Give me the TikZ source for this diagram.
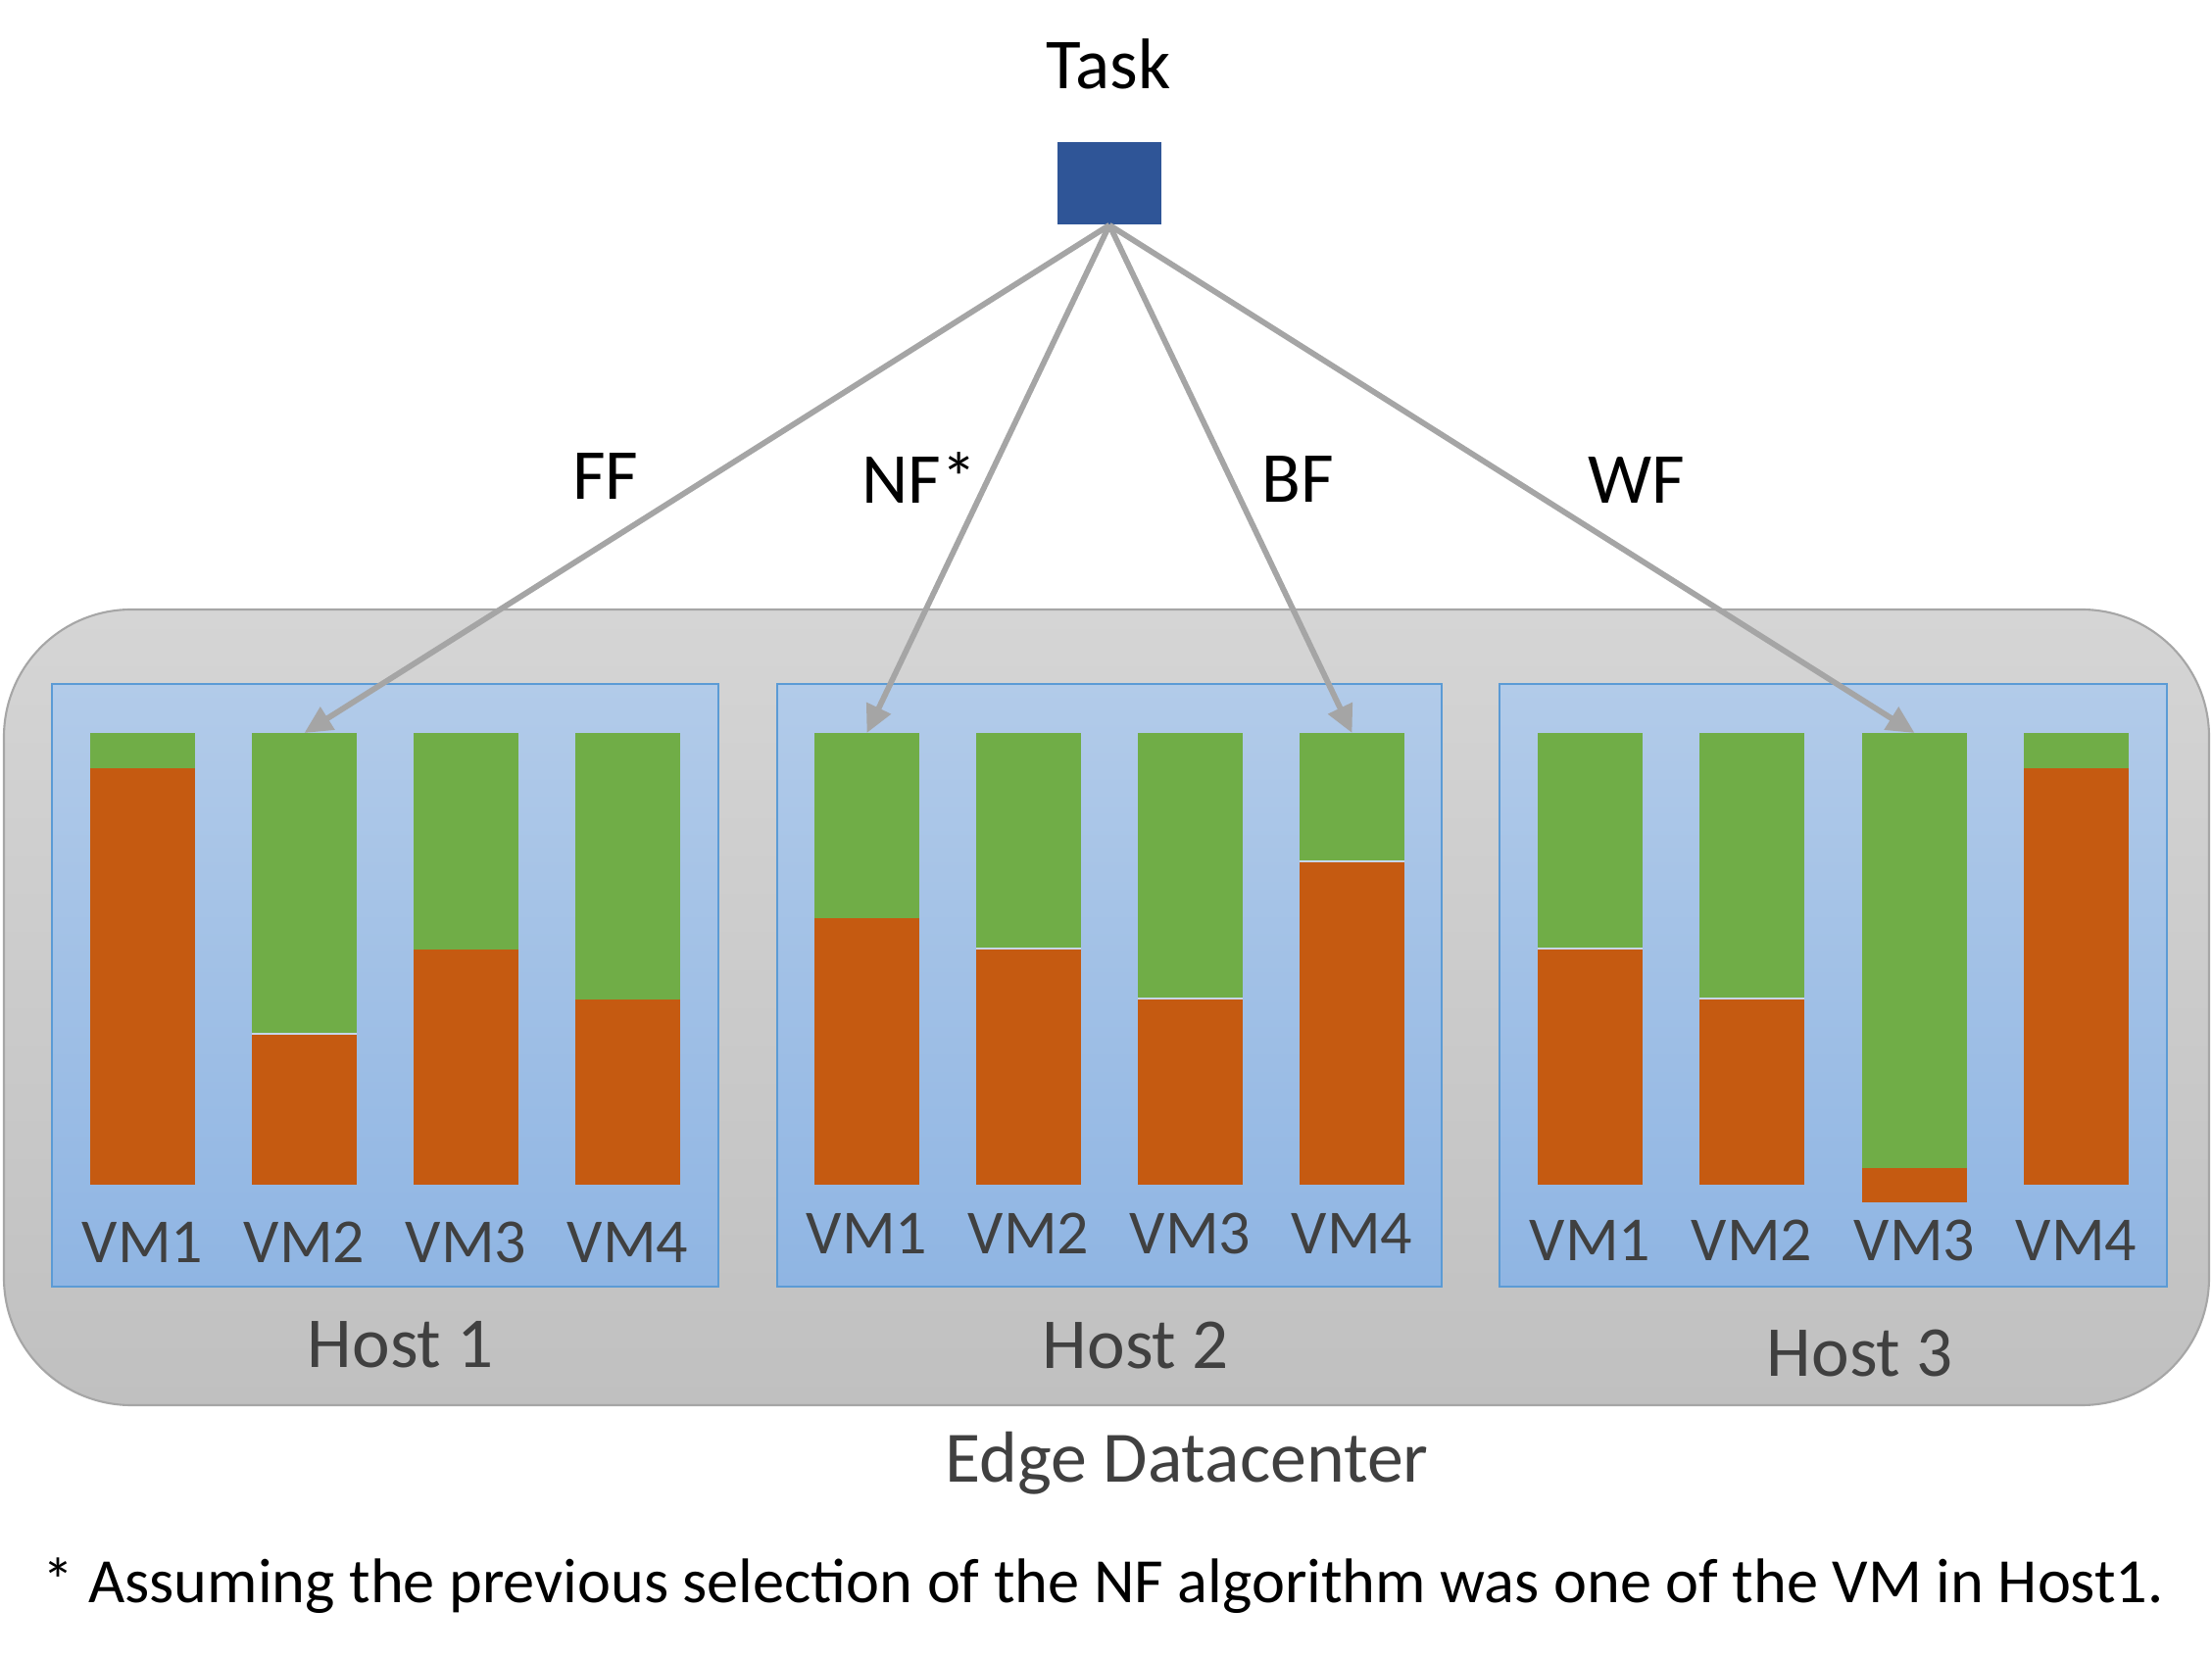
\documentclass[tikz,border=0pt]{standalone}
\usepackage{fontspec}
\setmainfont{Carlito}
\usetikzlibrary{arrows.meta}
\definecolor{vmgreen}{HTML}{70AD47}
\definecolor{vmorange}{HTML}{C55A11}
\definecolor{taskblue}{HTML}{2F5597}
\definecolor{arrgray}{HTML}{A5A5A5}
\definecolor{txtgray}{HTML}{404040}
\definecolor{dcborder}{HTML}{A6A6A6}
\definecolor{dctop}{HTML}{D5D5D5}
\definecolor{dcbot}{HTML}{C0C0C0}
\definecolor{hostborder}{HTML}{5B9BD5}
\definecolor{hosttop}{HTML}{B2CBE9}
\definecolor{hostbot}{HTML}{8FB5E3}
\definecolor{sepcol}{HTML}{C8D6EA}
\tikzset{
  dcbox/.style={draw=dcborder, line width=0.6pt, rounded corners=1.3cm, top color=dctop, bottom color=dcbot},
  hostbox/.style={draw=hostborder, line width=0.6pt, top color=hosttop, bottom color=hostbot},
  vmbarnode/.style={rectangle, inner sep=0pt, outer sep=0pt, fill=vmgreen, minimum width=1.07cm, anchor=north west},
  sepline/.style={draw=sepcol, line width=0.6pt},
  nosep/.style={draw=none},
  vmlabel/.style={anchor=base, inner sep=0pt, text=txtgray, font=\fontsize{18.2pt}{22pt}\selectfont},
  hostlabel/.style={anchor=base, inner sep=0pt, text=txtgray, font=\fontsize{20.8pt}{25pt}\selectfont},
  algolabel/.style={anchor=base, inner sep=0pt, text=black, font=\fontsize{20.8pt}{25pt}\selectfont},
  taskbox/.style={rectangle, inner sep=0pt, fill=taskblue, minimum width=1.06cm, minimum height=0.84cm},
  arr/.style={draw=arrgray, line width=1.65pt, -{Triangle[length=8pt,width=7.5pt]}},
}
% #1 name, #2 left x, #3 boundary y, #4 bottom y, #5 bar height (cm), #6 separator style
\newcommand{\vmbar}[6]{%
  \node[vmbarnode, minimum height=#5cm] (#1) at (#2,748) {};
  \fill[vmorange] (#2,#3) rectangle (#2+107,#4);
  \path[#6] (#2,#3) -- (#2+107,#3);
}
\begin{document}
\begin{tikzpicture}[x=0.01cm,y=-0.01cm]
\useasboundingbox (0,0) rectangle (2257,1692);
% datacenter
\path[dcbox] (4,622) rectangle (2254,1434);
% hosts
\path[hostbox] (53,698) rectangle (733,1313);
\path[hostbox] (793,698) rectangle (1471,1313);
\path[hostbox] (1530,698) rectangle (2211,1313);
% host 1 bars
\vmbar{hav}{92}{784}{1209}{4.61}{nosep}
\vmbar{hbv}{257}{1055}{1209}{4.61}{sepline}
\vmbar{hcv}{422}{969}{1209}{4.61}{nosep}
\vmbar{hdv}{587}{1020}{1209}{4.61}{nosep}
% host 2 bars
\vmbar{iav}{831}{937}{1209}{4.61}{nosep}
\vmbar{ibv}{996}{968}{1209}{4.61}{sepline}
\vmbar{icv}{1161}{1019}{1209}{4.61}{sepline}
\vmbar{idv}{1326}{879}{1209}{4.61}{sepline}
% host 3 bars
\vmbar{jav}{1569}{968}{1209}{4.61}{sepline}
\vmbar{jbv}{1734}{1019}{1209}{4.61}{sepline}
\vmbar{jcv}{1900}{1192}{1227}{4.79}{nosep}
\vmbar{jdv}{2065}{784}{1209}{4.61}{nosep}
% VM labels
\node[vmlabel] (la1) at (145.5,1288) {VM1};
\node[vmlabel] (la2) at (310.5,1288) {VM2};
\node[vmlabel] (la3) at (475.5,1288) {VM3};
\node[vmlabel] (la4) at (640.5,1288) {VM4};
\node[vmlabel] (lb1) at (884.5,1280) {VM1};
\node[vmlabel] (lb2) at (1049.5,1280) {VM2};
\node[vmlabel] (lb3) at (1214.5,1280) {VM3};
\node[vmlabel] (lb4) at (1379.5,1280) {VM4};
\node[vmlabel] (lc1) at (1622.5,1287) {VM1};
\node[vmlabel] (lc2) at (1787.5,1287) {VM2};
\node[vmlabel] (lc3) at (1953.5,1287) {VM3};
\node[vmlabel] (lc4) at (2118.5,1287) {VM4};
% host labels
\node[hostlabel] (host1) at (409,1395) {Host 1};
\node[hostlabel] (host2) at (1159,1396) {Host 2};
\node[hostlabel] (host3) at (1898,1404) {Host 3};
\node[hostlabel, font=\fontsize{21pt}{25pt}\selectfont] (edc) at (1211,1512) {Edge Datacenter};
% task
\node[algolabel] (tasklbl) at (1131,91) {Task};
\node[taskbox] (task) at (1132,187) {};
% arrows
\draw[arr] (task.south) -- (hbv.north);
\draw[arr] (task.south) -- (iav.north);
\draw[arr] (task.south) -- (idv.north);
\draw[arr] (task.south) -- (jcv.north);
% algorithm labels
\node[algolabel] (ff) at (618,510) {FF};
\node[algolabel] (nf) at (938,514) {NF*};
\node[algolabel] (bf) at (1324,513) {BF};
\node[algolabel] (wf) at (1670,514) {WF};
% footnote
\node[anchor=base west, inner sep=0pt, font=\fontsize{18.3pt}{22pt}\selectfont] (note) at (43,1635) {* Assuming the previous selection of the NF algorithm was one of the VM in Host1.};
\end{tikzpicture}
\end{document}
